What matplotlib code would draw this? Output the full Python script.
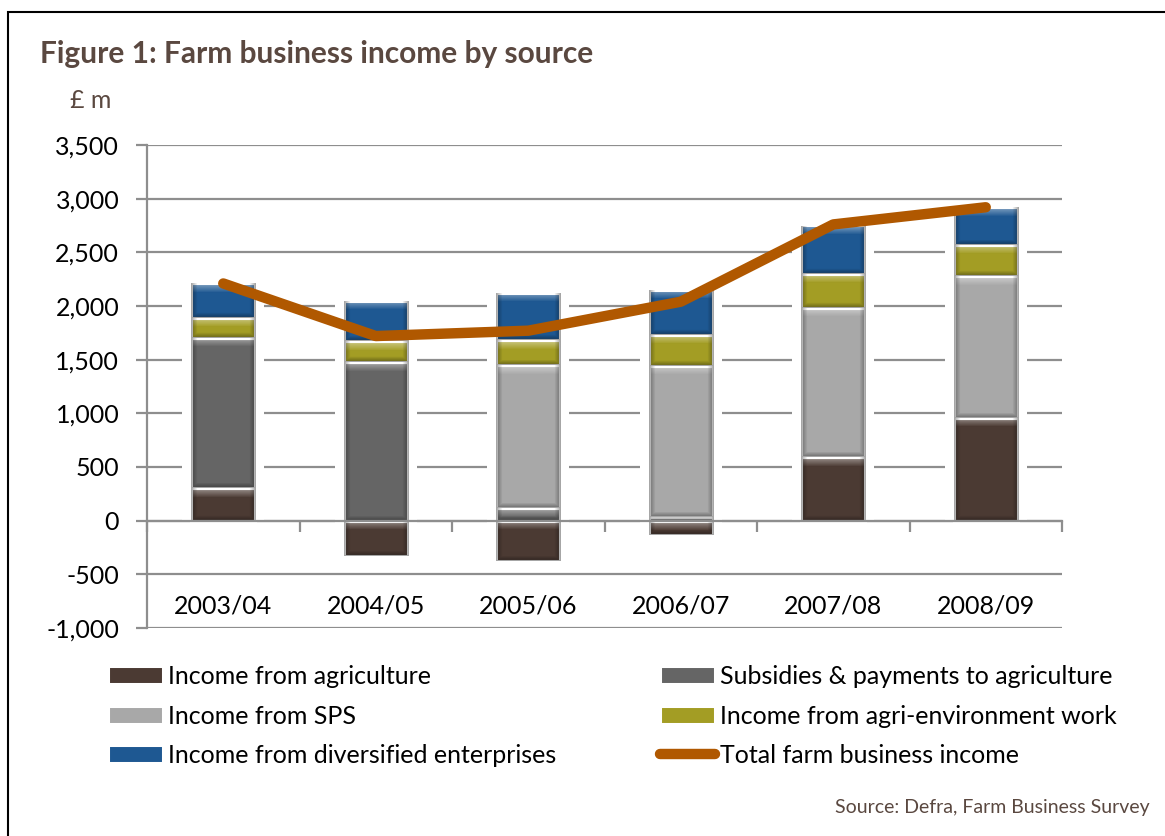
import numpy as np
import matplotlib
matplotlib.use("Agg")
import matplotlib.pyplot as plt
from matplotlib.patches import Rectangle
from matplotlib.ticker import FuncFormatter, MultipleLocator

# ---- data (GBP million) ----
categories = ["2003/04", "2004/05", "2005/06", "2006/07", "2007/08", "2008/09"]
income_agriculture = [300, -330, -380, -130, 590, 960]
subsidies_payments = [1400, 1480, 120, 30, 0, 0]
income_sps = [0, 0, 1330, 1410, 1390, 1320]
income_agri_env = [190, 190, 230, 290, 320, 290]
income_diversified = [320, 380, 440, 420, 450, 350]
total_fbi = [2210, 1720, 1770, 2040, 2760, 2920]

series_labels = ["Income from agriculture", "Subsidies & payments to agriculture",
                 "Income from SPS", "Income from agri-environment work",
                 "Income from diversified enterprises"]
line_label = "Total farm business income"

colors = ["#4b3a33", "#656565", "#a8a8a8", "#a39d24", "#1e5892"]
line_color = "#b05800"
grid_color = "#8e8e8e"
title_color = "#5a4840"

FONT = "Lato"
plt.rcParams["font.family"] = [FONT, "DejaVu Sans"]

fig = plt.figure(figsize=(11.65, 8.36), dpi=100)
W, H = 1165, 836
ax = fig.add_axes([147 / W, 1 - 628 / H, (1062 - 147) / W, (628 - 145) / H])

x = np.arange(len(categories))
bw = 0.42

# stacking: negative agriculture below zero, positives stacked upward
agri = np.array(income_agriculture, float)
pos_base = np.where(agri > 0, agri, 0.0)
stack_vals = [np.array(subsidies_payments, float), np.array(income_sps, float),
              np.array(income_agri_env, float), np.array(income_diversified, float)]
tops = pos_base + sum(stack_vals)
lows = np.minimum(agri, 0)

ax.set_xlim(-0.5, len(categories) - 0.5)
ax.set_ylim(-1000, 3500)

# white halo behind bars (hides gridlines around bars)
ax.bar(x, tops - lows, bottom=lows, width=0.54, color="white", zorder=1, linewidth=0)

handles = []
b = ax.bar(x, agri, width=bw, color=colors[0], edgecolor="white", linewidth=2.2,
           zorder=2, label=series_labels[0])
handles.append(b)
bottom = pos_base.copy()
for vals, col, lab in zip(stack_vals, colors[1:], series_labels[1:]):
    b = ax.bar(x, vals, bottom=bottom, width=bw, color=col, edgecolor="white",
               linewidth=2.2, zorder=2, label=lab)
    handles.append(b)
    bottom = bottom + vals


def bevel(patch):
    """Soft bevel shading overlay clipped to a bar patch."""
    x0, y0 = patch.get_x(), patch.get_y()
    w, h = patch.get_width(), patch.get_height()
    if abs(h) < 1e-9:
        return
    ylo, yhi = min(y0, y0 + h), max(y0, y0 + h)
    (px0, py0), (px1, py1) = ax.transData.transform([(x0, ylo), (x0 + w, yhi)])
    nx, ny = max(int(round(px1 - px0)), 2), max(int(round(py1 - py0)), 2)
    img = np.zeros((ny, nx, 4))
    rows = np.arange(ny)[:, None]
    cols = np.arange(nx)[None, :]
    # light band at top
    top_a = np.clip(1 - rows / 9.0, 0, 1) * 0.45
    # dark sides and bottom
    side = np.minimum(cols, nx - 1 - cols)
    side_a = np.clip(1 - side / 6.0, 0, 1) * 0.35
    bot_a = np.clip(1 - (ny - 1 - rows) / 5.0, 0, 1) * 0.35
    dark_a = np.maximum(side_a, bot_a)
    light = top_a * (1 - dark_a)
    img[..., :3] = (light / np.maximum(light + dark_a, 1e-9))[..., None] * np.ones(3)
    img[..., 3] = np.clip(light + dark_a, 0, 1)
    im = ax.imshow(img, extent=(x0, x0 + w, ylo, yhi), origin="upper", aspect="auto",
                   interpolation="bilinear", zorder=2.1)
    im.set_clip_path(patch)


for cont in handles:
    for p in cont.patches:
        bevel(p)

ln, = ax.plot(x, total_fbi, color=line_color, lw=7.5, solid_capstyle="round",
              solid_joinstyle="round", zorder=4, label=line_label)

# axes styling
ax.set_xlim(-0.5, len(categories) - 0.5)
ax.set_ylim(-1000, 3500)
ax.set_aspect("auto")
ax.yaxis.set_major_locator(MultipleLocator(500))
ax.yaxis.set_major_formatter(FuncFormatter(lambda v, p: f"{v:,.0f}"))
ax.set_axisbelow(True)
ax.yaxis.grid(True, color=grid_color, lw=1.6)
for s in ["top", "right"]:
    ax.spines[s].set_visible(False)
ax.spines["left"].set_color(grid_color)
ax.spines["left"].set_linewidth(1.6)
ax.spines["bottom"].set_position(("data", 0))
ax.spines["bottom"].set_color(grid_color)
ax.spines["bottom"].set_linewidth(1.6)
ax.spines["bottom"].set_zorder(3)
ax.set_xticks([])
ax.set_xticks(np.arange(-0.5, len(categories), 1.0), minor=True)
ax.tick_params(axis="x", which="minor", length=8, width=1.6, color=grid_color, direction="out")
ax.tick_params(axis="y", length=8, width=1.6, color=grid_color, labelsize=18, pad=12,
               labelcolor="black")

for xi, cat in zip(x, categories):
    ax.text(xi, 0.046, cat, transform=ax.get_xaxis_transform(), ha="center", va="center",
            fontsize=18, color="black")

# title, units, source
fig.text(40 / W, 1 - 63 / H, "Figure 1: Farm business income by source", fontsize=21.5,
         fontweight="bold", color=title_color, va="baseline", ha="left")
fig.text(70 / W, 1 - 108 / H, "£ m", fontsize=18, color=title_color, va="baseline", ha="left")
fig.text(1150 / W, 1 - 813 / H, "Source: Defra, Farm Business Survey", fontsize=14,
         color=title_color, va="baseline", ha="right")

# legend in two columns
leg_kw = dict(frameon=False, fontsize=18, handlelength=2.2, handleheight=0.72,
              handletextpad=0.2, borderpad=0, borderaxespad=0, labelspacing=0.66,
              loc="upper left")
leg1 = fig.legend([handles[0], handles[2], handles[4]],
                  [series_labels[0], series_labels[2], series_labels[4]],
                  bbox_to_anchor=(108 / W, 1 - 665 / H), **leg_kw)
leg2 = fig.legend([handles[1], handles[3], ln],
                  [series_labels[1], series_labels[3], line_label],
                  bbox_to_anchor=(660 / W, 1 - 665 / H), **leg_kw)

# outer border of the exhibit
fig.patches.append(Rectangle((8 / W, -0.05), 1.2, 1 - 12 / H + 0.05, transform=fig.transFigure,
                             fill=False, edgecolor="black", lw=1.5))

fig.savefig("out.png", dpi=100)
